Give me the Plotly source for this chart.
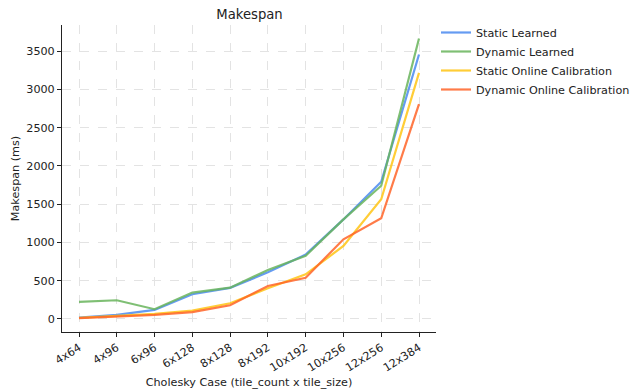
import plotly.graph_objects as go

cases = ["4x64", "4x96", "6x96", "6x128", "8x128", "8x192", "10x192", "10x256", "12x256", "12x384"]

static_learned = [15, 52, 117, 322, 405, 608, 840, 1300, 1793, 3456]
dynamic_learned = [221, 243, 126, 343, 408, 638, 825, 1300, 1740, 3665]
static_online = [12, 39, 65, 108, 204, 400, 582, 953, 1563, 3216]
dynamic_online = [10, 30, 52, 87, 178, 430, 538, 1040, 1315, 2807]

series = [
    ("Static Learned", static_learned, "rgba(74,138,240,0.85)"),
    ("Dynamic Learned", dynamic_learned, "rgba(104,180,92,0.85)"),
    ("Static Online Calibration", static_online, "rgba(255,196,20,0.85)"),
    ("Dynamic Online Calibration", dynamic_online, "rgba(255,100,40,0.85)"),
]

FONT = "DejaVu Sans"
W, H = 633, 392
L, R, T, B = 62, 437, 25, 332  # plot area edges in pixels

fig = go.Figure()
for name, vals, color in series:
    fig.add_trace(go.Scatter(
        x=list(range(len(cases))), y=vals, name=name, mode="lines",
        line=dict(color=color, width=2.2),
    ))

grid = dict(showgrid=True, gridcolor="#e3e3e3", griddash="dash", gridwidth=1)

fig.update_layout(
    width=W, height=H,
    margin=dict(l=L, r=W - R, t=T, b=H - B),
    paper_bgcolor="white", plot_bgcolor="white",
    font=dict(family=FONT, size=11.2, color="#222"),
    title=dict(text="Makespan", x=(L + R) / 2 / W, xanchor="center",
               y=1 - 14 / H, yanchor="middle", font=dict(size=13.2, family=FONT)),
    legend=dict(xref="container", yref="container",
                x=436 / W, xanchor="left", y=1 - 18 / H, yanchor="top",
                font=dict(size=11.2, family=FONT), tracegroupgap=0,
                itemwidth=30, bgcolor="rgba(0,0,0,0)"),
    xaxis=dict(
        tickmode="array", tickvals=list(range(len(cases))), ticktext=cases,
        range=[-0.45, len(cases) - 1 + 0.45], tickangle=-32,
        showline=True, linecolor="#222", linewidth=1,
        ticks="outside", ticklen=4, tickcolor="#222",
        zeroline=False, automargin=False,
        title=dict(text="Cholesky Case (tile_count x tile_size)", standoff=4,
                   font=dict(size=11.2)),
        **grid,
    ),
    yaxis=dict(
        range=[-172, 3842], tickvals=[0, 500, 1000, 1500, 2000, 2500, 3000, 3500],
        showline=True, linecolor="#222", linewidth=1,
        ticks="outside", ticklen=4, tickcolor="#222",
        zeroline=False, automargin=False,
        title=dict(text="Makespan (ms)", standoff=4, font=dict(size=11.2)),
        **grid,
    ),
)

fig.write_html("out.html")
